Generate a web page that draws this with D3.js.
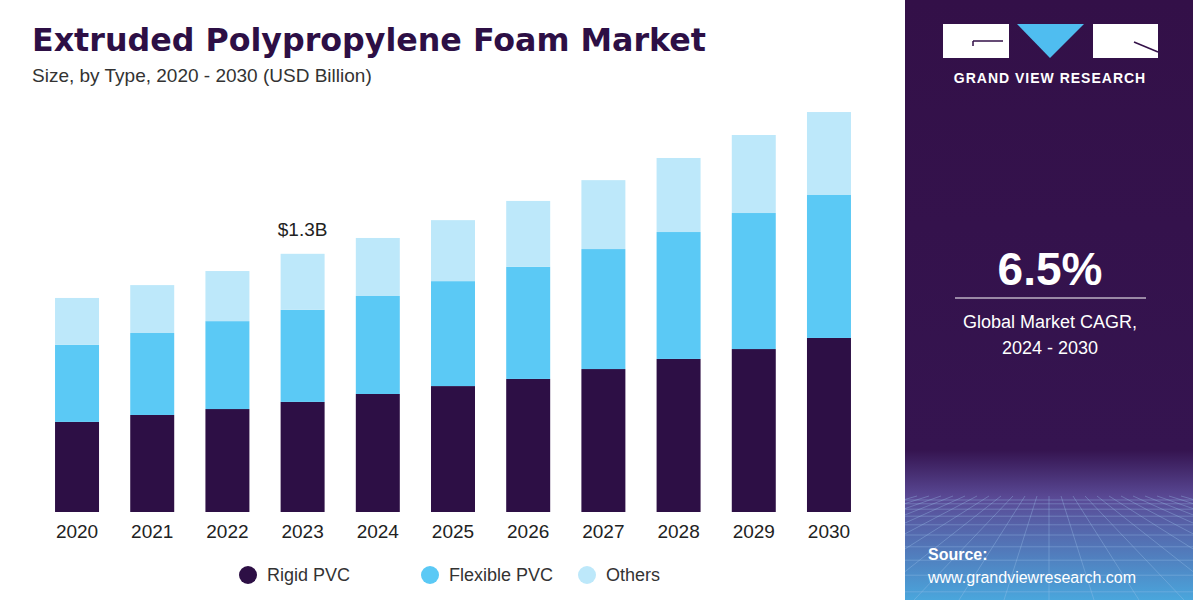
<!DOCTYPE html>
<html><head><meta charset="utf-8">
<script src="https://cdn.jsdelivr.net/npm/d3@7"></script>
<style>body{margin:0;background:#fff}svg{display:block;font-family:"Liberation Sans",Arial,sans-serif}</style>
</head><body><svg width="1200" height="600"></svg>
<script>
const years = ['2020','2021','2022','2023','2024','2025','2026','2027','2028','2029','2030']
const rigid = [0.455,0.49,0.52,0.556,0.596,0.636,0.672,0.722,0.773,0.823,0.879]
const flexible = [0.389,0.414,0.444,0.465,0.495,0.53,0.566,0.606,0.641,0.687,0.722]
const others = [0.237,0.242,0.253,0.283,0.293,0.308,0.333,0.348,0.374,0.394,0.419]
const seriesNames = ['Rigid PVC','Flexible PVC','Others']
const colors = ['#2d0f45','#5bc9f5','#bde8fa']

const svg = d3.select('svg')
const rows = years.map((y, i) => ({year: y, 'Rigid PVC': rigid[i], 'Flexible PVC': flexible[i], 'Others': others[i]}))
const stack = d3.stack().keys(seriesNames)(rows)

const x = d3.scaleBand().domain(years).range([40, 866]).paddingInner(0.415).paddingOuter(0.2)
const y = d3.scaleLinear().domain([0, 2.0]).range([512, 116])

svg.append('g').selectAll('g').data(stack).join('g')
  .attr('fill', (d, i) => colors[i])
  .selectAll('rect').data(d => d).join('rect')
  .attr('x', d => x(d.data.year))
  .attr('width', x.bandwidth())
  .attr('y', d => y(d[1]))
  .attr('height', d => y(d[0]) - y(d[1]))

svg.append('g').selectAll('text').data(years).join('text')
  .attr('x', d => x(d) + x.bandwidth() / 2).attr('y', 538)
  .attr('text-anchor', 'middle').attr('font-size', 19).attr('fill', '#222').text(d => d)

const i23 = years.indexOf('2023')
svg.append('text').attr('x', x('2023') + x.bandwidth() / 2).attr('y', y(rigid[i23] + flexible[i23] + others[i23]) - 18)
  .attr('text-anchor', 'middle').attr('font-size', 19).attr('fill', '#222').text('$1.3B')

svg.append('text').attr('x', 32).attr('y', 51).attr('font-size', 32).attr('font-weight', 'bold')
  .attr('fill', '#2d0f45').attr('font-family', 'DejaVu Sans').attr('textLength', 674).attr('lengthAdjust', 'spacingAndGlyphs')
  .text('Extruded Polypropylene Foam Market')
svg.append('text').attr('x', 32).attr('y', 82).attr('font-size', 19).attr('fill', '#333')
  .text('Size, by Type, 2020 - 2030 (USD Billion)')

const legX = [248, 430, 587]
const lg = svg.append('g').selectAll('g').data(seriesNames).join('g')
  .attr('transform', (d, i) => `translate(${legX[i]},575)`)
lg.append('circle').attr('r', 9).attr('fill', (d, i) => colors[i])
lg.append('text').attr('x', 19).attr('y', 6).attr('font-size', 18).attr('fill', '#333').text(d => d)

// right panel
const defs = svg.append('defs')
const gr = defs.append('linearGradient').attr('id', 'pg').attr('x1', 0).attr('x2', 0).attr('y1', 0).attr('y2', 1)
gr.append('stop').attr('offset', '0%').attr('stop-color', '#331048')
gr.append('stop').attr('offset', '75%').attr('stop-color', '#351450')
gr.append('stop').attr('offset', '83%').attr('stop-color', '#5a4a96')
gr.append('stop').attr('offset', '100%').attr('stop-color', '#4aa6dc')
defs.append('clipPath').attr('id', 'pc').append('rect').attr('x', 905).attr('y', 0).attr('width', 288).attr('height', 600)
svg.append('rect').attr('x', 905).attr('y', 0).attr('width', 288).attr('height', 600).attr('fill', 'url(#pg)')

const grid = svg.append('g').attr('clip-path', 'url(#pc)').attr('stroke', '#9fc4ec').attr('stroke-opacity', 0.35).attr('stroke-width', 1)
d3.range(0, 12).forEach(k => {
  const yy = 500 + k * k * 0.8 + k * 3
  grid.append('line').attr('x1', 905).attr('x2', 1193).attr('y1', yy).attr('y2', yy)
})
d3.range(-20, 21).forEach(k => {
  grid.append('line').attr('x1', 1049 + k * 12).attr('y1', 496).attr('x2', 1049 + k * 45).attr('y2', 600)
})

const logo = svg.append('g')
logo.append('rect').attr('x', 943).attr('y', 24).attr('width', 66).attr('height', 34).attr('fill', '#fff')
logo.append('path').attr('d', 'M973 41 H1003 M973 41 V46').attr('stroke', '#331048').attr('stroke-width', 1.5)
logo.append('path').attr('d', 'M1017 24 H1084 L1050 58 Z').attr('fill', '#4fbdf0')
logo.append('rect').attr('x', 1093).attr('y', 24).attr('width', 65).attr('height', 34).attr('fill', '#fff')
logo.append('path').attr('d', 'M1134 42 L1158 52').attr('stroke', '#331048').attr('stroke-width', 1.5)
svg.append('text').attr('x', 1050).attr('y', 83).attr('text-anchor', 'middle').attr('font-size', 14)
  .attr('font-weight', 'bold').attr('fill', '#fff').attr('letter-spacing', 1).text('GRAND VIEW RESEARCH')

svg.append('text').attr('x', 1050).attr('y', 285).attr('text-anchor', 'middle').attr('font-size', 46)
  .attr('font-weight', 'bold').attr('fill', '#fff').text('6.5%')
svg.append('line').attr('x1', 955).attr('x2', 1146).attr('y1', 298).attr('y2', 298).attr('stroke', '#fff').attr('stroke-width', 1)
svg.append('text').attr('x', 1050).attr('y', 328).attr('text-anchor', 'middle').attr('font-size', 18).attr('fill', '#fff').text('Global Market CAGR,')
svg.append('text').attr('x', 1050).attr('y', 354).attr('text-anchor', 'middle').attr('font-size', 18).attr('fill', '#fff').text('2024 - 2030')

svg.append('text').attr('x', 928).attr('y', 560).attr('font-size', 16).attr('font-weight', 'bold').attr('fill', '#fff').text('Source:')
svg.append('text').attr('x', 928).attr('y', 583).attr('font-size', 16).attr('fill', '#fff').text('www.grandviewresearch.com')
</script></body></html>
